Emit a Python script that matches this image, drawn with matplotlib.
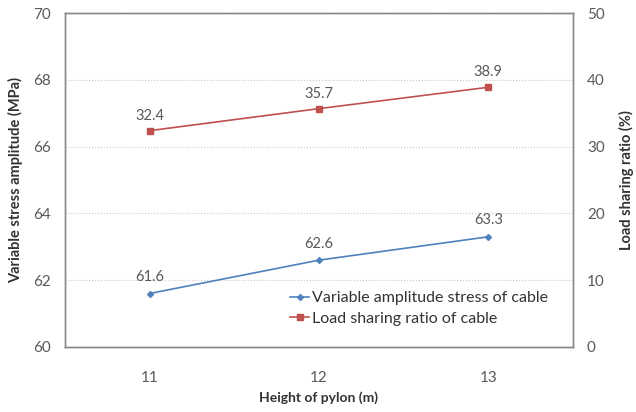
import numpy as np
import matplotlib.pyplot as plt

plt.rcParams['font.family'] = ['Lato', 'DejaVu Sans']

heights = ['11', '12', '13']
stress = [61.6, 62.6, 63.3]
sharing = [32.4, 35.7, 38.9]

blue = '#4F81BD'
red = '#C0504D'
grey = '#595959'


def main():
    fig = plt.figure(figsize=(6.36, 4.12), dpi=100)
    ax1 = fig.add_axes([0.102, 0.158, 0.799, 0.81])
    ax2 = ax1.twinx()

    x = np.arange(len(heights))
    l1, = ax1.plot(x, stress, color=blue, marker='D', markersize=3,
                   linewidth=1.2, label='Variable amplitude stress of cable')
    l2, = ax2.plot(x, sharing, color=red, marker='s', markersize=4,
                   linewidth=1.2, label='Load sharing ratio of cable')

    for xi, v in zip(x, stress):
        ax1.annotate('%.1f' % v, (xi, v), xytext=(0, 9), textcoords='offset points',
                     ha='center', fontsize=10.5, color=grey)
    for xi, v in zip(x, sharing):
        ax2.annotate('%.1f' % v, (xi, v), xytext=(0, 8), textcoords='offset points',
                     ha='center', fontsize=10.5, color=grey)

    ax1.set_xlim(-0.5, 2.5)
    ax1.set_ylim(60, 70)
    ax2.set_ylim(0, 50)
    ax1.set_xticks(x)
    ax1.set_xticklabels(heights)
    ax1.set_yticks(np.arange(60, 71, 2))
    ax2.set_yticks(np.arange(0, 51, 10))

    ax1.yaxis.grid(True, color='#C8C8C8', linestyle=':', linewidth=0.8)
    ax1.set_axisbelow(True)

    for ax in (ax1, ax2):
        ax.tick_params(length=0, labelsize=11, colors=grey, pad=10)
        for s in ax.spines.values():
            s.set_color('#888888')
            s.set_linewidth(1.0)
    ax1.tick_params(axis='x', pad=17)

    ax1.set_xlabel('Height of pylon (m)', fontsize=10, fontweight='bold',
                   color='#333333', labelpad=5)
    ax1.set_ylabel('Variable stress amplitude (MPa)', fontsize=10.5,
                   fontweight='bold', color='#333333', labelpad=7)
    ax2.set_ylabel('Load sharing ratio (%)', fontsize=10.5, fontweight='bold',
                   color='#333333', labelpad=10)

    ax1.legend(handles=[l1, l2], loc='lower right', bbox_to_anchor=(0.98, 0.02),
               frameon=False, fontsize=11.5, handlelength=1.2, handletextpad=0.2,
               labelspacing=0.4, labelcolor='#333333')

    fig.savefig('out.png', dpi=100)


if __name__ == '__main__':
    main()
